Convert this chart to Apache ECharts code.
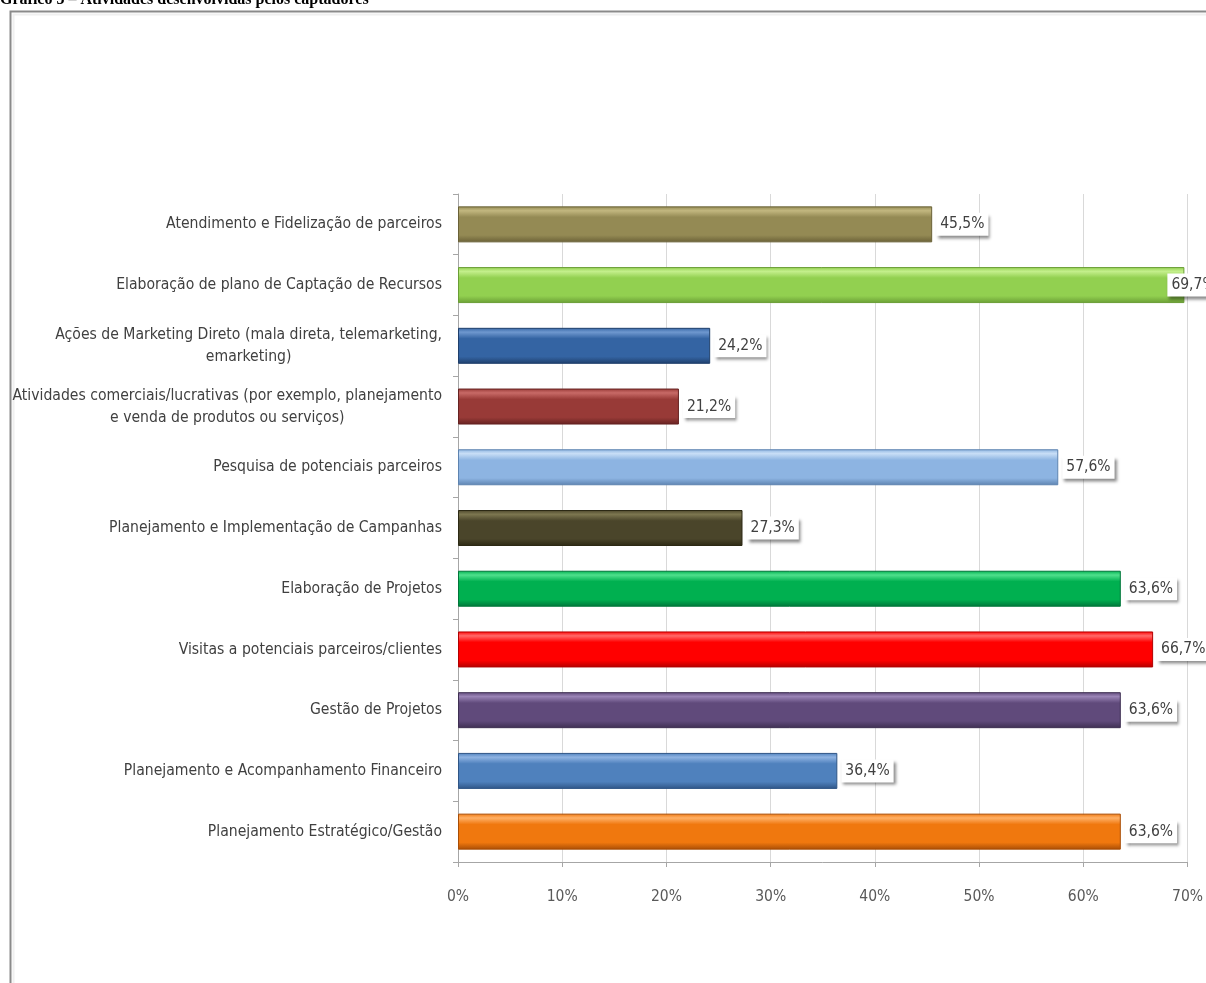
<!DOCTYPE html>
<html>
<head>
<meta charset="utf-8">
<script src="https://cdn.jsdelivr.net/npm/echarts@6/dist/echarts.min.js"></script>
<style>
  html, body { margin: 0; padding: 0; background: #fff; }
  #chart { width: 1206px; height: 983px; }
</style>
</head>
<body>
<div id="chart"></div>
<script>
// Activities carried out by fundraisers (share of respondents, %)
const categories = [
  'Atendimento e Fidelização de parceiros',
  'Elaboração de plano de Captação de Recursos',
  'Ações de Marketing Direto (mala direta, telemarketing,\nemarketing)',
  'Atividades comerciais/lucrativas (por exemplo, planejamento\ne venda de produtos ou serviços)',
  'Pesquisa de potenciais parceiros',
  'Planejamento e Implementação de Campanhas',
  'Elaboração de Projetos',
  'Visitas a potenciais parceiros/clientes',
  'Gestão de Projetos',
  'Planejamento e Acompanhamento Financeiro',
  'Planejamento Estratégico/Gestão'
];
const values = [45.5, 69.7, 24.2, 21.2, 57.6, 27.3, 63.6, 66.7, 63.6, 36.4, 63.6];
const xTicks = [0, 10, 20, 30, 40, 50, 60, 70];

// one colour per bar: [highlight, base, shade]
const palette = [
  ['#c2b77f', '#948a54', '#6a6137'],
  ['#c4ef8c', '#92d050', '#6a9e35'],
  ['#6f98cf', '#3464a3', '#1f3f6b'],
  ['#c86a67', '#983a37', '#662221'],
  ['#c8def6', '#8db4e2', '#5d83b0'],
  ['#7d7750', '#4a452a', '#2c2914'],
  ['#4fe08c', '#00b050', '#00763a'],
  ['#ff6a6a', '#ff0000', '#b30000'],
  ['#9a84b6', '#604a7b', '#3e2f52'],
  ['#8fb3e2', '#4f81bd', '#2f5585'],
  ['#ffb066', '#f0780e', '#a84d05']
];

const font = '"Liberation Sans Narrow", "Arial Narrow", "DejaVu Sans Condensed", sans-serif';
const xMax = xTicks[xTicks.length - 1];

function fmtPct(v) {
  return v.toFixed(1).replace('.', ',') + '%';
}

const chart = echarts.init(document.getElementById('chart'), null, { renderer: 'canvas' });

chart.setOption({
  backgroundColor: '#ffffff',
  animation: false,
  graphic: [
    {
      type: 'rect',
      left: 11, top: 12,
      shape: { width: 1400, height: 1200 },
      style: { fill: 'none', stroke: '#f0f0f0', lineWidth: 2 },
      z: 0
    },
    {
      type: 'rect',
      left: 8, top: 9,
      shape: { width: 1400, height: 1200 },
      style: { fill: 'none', stroke: '#8a8a8a', lineWidth: 2 },
      z: 1
    },
    {
      type: 'text',
      left: 0, top: -8,
      style: {
        text: 'Gráfico 5 – Atividades desenvolvidas pelos captadores',
        font: 'bold 16px "Liberation Serif", "Times New Roman", serif',
        fill: '#000'
      },
      z: 10
    }
  ],
  grid: { left: 458, right: 18, top: 194, bottom: 121, containLabel: false },
  xAxis: {
    type: 'value',
    min: xTicks[0],
    max: xMax,
    interval: 10,
    axisLine: { show: true, lineStyle: { color: '#a6a6a6', width: 1 } },
    axisTick: { show: true, length: 5, lineStyle: { color: '#a6a6a6' } },
    axisLabel: {
      margin: 27,
      formatter: v => v + '%',
      fontFamily: font,
      fontSize: 15.5,
      color: '#595959'
    },
    splitLine: { show: true, lineStyle: { color: '#d9d9d9', width: 1 } }
  },
  yAxis: {
    type: 'category',
    data: categories,
    inverse: true,
    axisLine: { show: true, lineStyle: { color: '#a6a6a6', width: 1 } },
    axisTick: { show: true, length: 5, inside: false, alignWithLabel: false, lineStyle: { color: '#a6a6a6' } },
    axisLabel: {
      margin: 16,
      align: 'right',
      formatter: v => v.split('\n').map(s => '{c|' + s + '}').join('\n'),
      rich: {
        c: {
          fontFamily: font,
          fontSize: 15.6,
          color: '#404040',
          align: 'center',
          lineHeight: 22
        }
      }
    },
    splitLine: { show: false }
  },
  series: [{
    type: 'bar',
    barWidth: 36,
    data: values.map((v, i) => {
      const item = {
        value: v,
        itemStyle: {
          color: new echarts.graphic.LinearGradient(0, 0, 0, 1, [
            { offset: 0, color: palette[i][1] },
            { offset: 0.12, color: palette[i][0] },
            { offset: 0.3, color: palette[i][1] },
            { offset: 0.8, color: palette[i][1] },
            { offset: 1, color: palette[i][2] }
          ]),
          borderColor: palette[i][2],
          borderWidth: 1
        }
      };
      // a label on a bar reaching the axis end is pulled back over the bar tip
      if (v > xMax - 1) item.label = { offset: [-21, 0] };
      return item;
    }),
    label: {
      show: true,
      position: 'right',
      distance: 4,
      formatter: p => fmtPct(p.value),
      fontFamily: font,
      fontSize: 15.5,
      color: '#404040',
      backgroundColor: '#ffffff',
      padding: [4, 4, 3, 4],
      shadowColor: 'rgba(0,0,0,0.45)',
      shadowBlur: 3,
      shadowOffsetX: 2,
      shadowOffsetY: 3
    }
  }]
});
</script>
</body>
</html>
